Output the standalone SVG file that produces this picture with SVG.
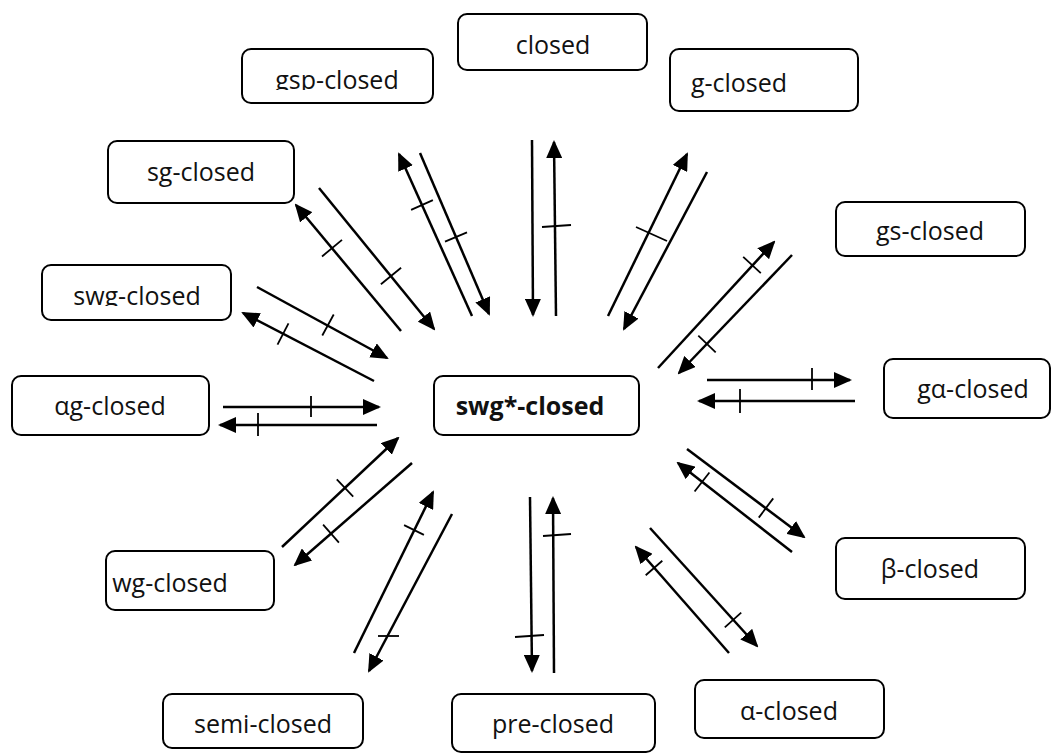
<svg xmlns="http://www.w3.org/2000/svg" width="1053" height="754" viewBox="0 0 1053 754">
<defs>
<style>
.box{fill:#fff;stroke:#000;stroke-width:2}
.t{font-family:"Open Sans","Noto Sans","Liberation Sans",sans-serif;font-size:25px;fill:#111;text-anchor:middle}
.b{font-weight:bold}
.c line{stroke:#000;stroke-width:2.5;fill:none}
.c .a{marker-end:url(#ah)}
.c .k{stroke-width:1.8}
</style>
<marker id="ah" markerUnits="userSpaceOnUse" markerWidth="18" markerHeight="16" refX="16" refY="8" orient="auto">
<path d="M0,0 L18,8 L0,16 z" fill="#000"/>
</marker>
<clipPath id="cgsp"><rect x="242" y="49" width="191" height="41"/></clipPath>
<clipPath id="cswg"><rect x="42" y="265" width="189" height="41"/></clipPath>
</defs>
<rect width="1053" height="754" fill="#fff"/>

<g id="n-closed"><rect class="box" x="458" y="14" width="189" height="56" rx="9"/><text class="t" x="553" y="54">closed</text></g>
<g id="n-gsp"><rect class="box" x="242" y="49" width="191" height="54" rx="9"/><text class="t" x="337" y="89" clip-path="url(#cgsp)">gsp-closed</text></g>
<g id="n-g"><rect class="box" x="670" y="49" width="188" height="62" rx="9"/><text class="t" x="739" y="92">g-closed</text></g>
<g id="n-sg"><rect class="box" x="108" y="141" width="186" height="62" rx="9"/><text class="t" x="201" y="181">sg-closed</text></g>
<g id="n-gs"><rect class="box" x="836" y="202" width="189" height="54" rx="9"/><text class="t" x="930" y="240">gs-closed</text></g>
<g id="n-swg"><rect class="box" x="42" y="265" width="189" height="55" rx="9"/><text class="t" x="137" y="305" clip-path="url(#cswg)">swg-closed</text></g>
<g id="n-ag"><rect class="box" x="12" y="376" width="197" height="59" rx="9"/><text class="t" x="110" y="415">αg-closed</text></g>
<g id="n-center"><rect class="box" x="434" y="376" width="205" height="59" rx="9"/><text class="t b" x="530" y="415">swg*-closed</text></g>
<g id="n-ga"><rect class="box" x="884" y="359" width="166" height="59" rx="9"/><text class="t" x="973" y="398">gα-closed</text></g>
<g id="n-beta"><rect class="box" x="836" y="538" width="189" height="61" rx="9"/><text class="t" x="930" y="578">β-closed</text></g>
<g id="n-wg"><rect class="box" x="106" y="551" width="168" height="59" rx="9"/><text class="t" x="170" y="592">wg-closed</text></g>
<g id="n-semi"><rect class="box" x="163" y="694" width="200" height="54" rx="9"/><text class="t" x="263" y="733">semi-closed</text></g>
<g id="n-pre"><rect class="box" x="452" y="694" width="203" height="58" rx="9"/><text class="t" x="553" y="733">pre-closed</text></g>
<g id="n-alpha"><rect class="box" x="695" y="680" width="189" height="58" rx="9"/><text class="t" x="789" y="720">α-closed</text></g>

<g id="connectors" class="c">
<!-- closed -->
<line class="a" x1="532" y1="140" x2="533" y2="315"/>
<line class="a" x1="556" y1="316" x2="554" y2="142"/>
<line class="k" x1="542" y1="227" x2="571" y2="225"/>
<!-- g-closed -->
<line class="a" x1="608" y1="316" x2="687" y2="154"/>
<line class="a" x1="707" y1="172" x2="624" y2="329"/>
<line class="k" x1="636" y1="227" x2="667" y2="241"/>
<!-- gs-closed -->
<line class="a" x1="658" y1="368" x2="774" y2="242"/>
<line class="k" x1="743.2" y1="256.9" x2="760.8" y2="273.1"/>
<line class="a" x1="792" y1="255" x2="679" y2="373"/>
<line class="k" x1="698.3" y1="335.7" x2="715.7" y2="352.3"/>
<!-- ga-closed -->
<line class="a" x1="707" y1="380" x2="850" y2="380"/>
<line class="k" x1="812" y1="368" x2="812" y2="390"/>
<line class="a" x1="855" y1="401" x2="699" y2="401"/>
<line class="k" x1="740" y1="389" x2="740" y2="413"/>
<!-- beta-closed -->
<line class="a" x1="687" y1="449" x2="804" y2="537"/>
<line class="k" x1="758.8" y1="517.6" x2="773.2" y2="498.4"/>
<line class="a" x1="792" y1="552" x2="678" y2="463"/>
<line class="k" x1="694.6" y1="491.5" x2="709.4" y2="472.5"/>
<!-- alpha-closed -->
<line class="a" x1="650" y1="528" x2="757" y2="646"/>
<line class="k" x1="724.8" y1="627.4" x2="741.2" y2="612.6"/>
<line class="a" x1="729" y1="653" x2="636" y2="547"/>
<line class="k" x1="645.7" y1="575.3" x2="662.3" y2="560.7"/>
<!-- pre-closed -->
<line class="a" x1="530" y1="497" x2="532" y2="671"/>
<line class="k" x1="515" y1="637" x2="544" y2="635"/>
<line class="a" x1="554" y1="673" x2="553" y2="498"/>
<line class="k" x1="543" y1="536" x2="571" y2="534"/>
<!-- semi-closed -->
<line class="a" x1="354" y1="653" x2="433" y2="492"/>
<line class="k" x1="404.1" y1="525.1" x2="423.9" y2="534.9"/>
<line class="a" x1="452" y1="514" x2="369" y2="671"/>
<line class="k" x1="378" y1="636" x2="399" y2="636"/>
<!-- wg-closed -->
<line class="a" x1="282" y1="547" x2="398" y2="438"/>
<line class="k" x1="336.8" y1="479.3" x2="353.2" y2="496.7"/>
<line class="a" x1="412" y1="463" x2="295" y2="565"/>
<line class="k" x1="323.1" y1="524.6" x2="338.9" y2="542.6"/>
<!-- ag-closed -->
<line class="a" x1="223" y1="407" x2="379" y2="407"/>
<line class="k" x1="311" y1="396" x2="311" y2="417"/>
<line class="a" x1="377" y1="425" x2="220" y2="425"/>
<line class="k" x1="258" y1="413" x2="258" y2="436"/>
<!-- swg-closed -->
<line class="a" x1="257" y1="287" x2="387" y2="358"/>
<line class="k" x1="322.3" y1="335.5" x2="333.7" y2="314.5"/>
<line class="a" x1="374" y1="381" x2="243" y2="313"/>
<line class="k" x1="277.5" y1="344.7" x2="288.5" y2="323.3"/>
<!-- sg-closed -->
<line class="a" x1="319" y1="188" x2="434" y2="329"/>
<line class="k" x1="380.9" y1="284.2" x2="401.1" y2="267.8"/>
<line class="a" x1="401" y1="331" x2="296" y2="205"/>
<line class="k" x1="322" y1="256.5" x2="342" y2="239.9"/>
<!-- gsp-closed -->
<line class="a" x1="472" y1="316" x2="399" y2="154"/>
<line class="k" x1="411.1" y1="209.9" x2="432.9" y2="200.1"/>
<line class="a" x1="420" y1="153" x2="489" y2="314"/>
<line class="k" x1="445" y1="241.7" x2="467" y2="232.3"/>
</g>
</svg>
